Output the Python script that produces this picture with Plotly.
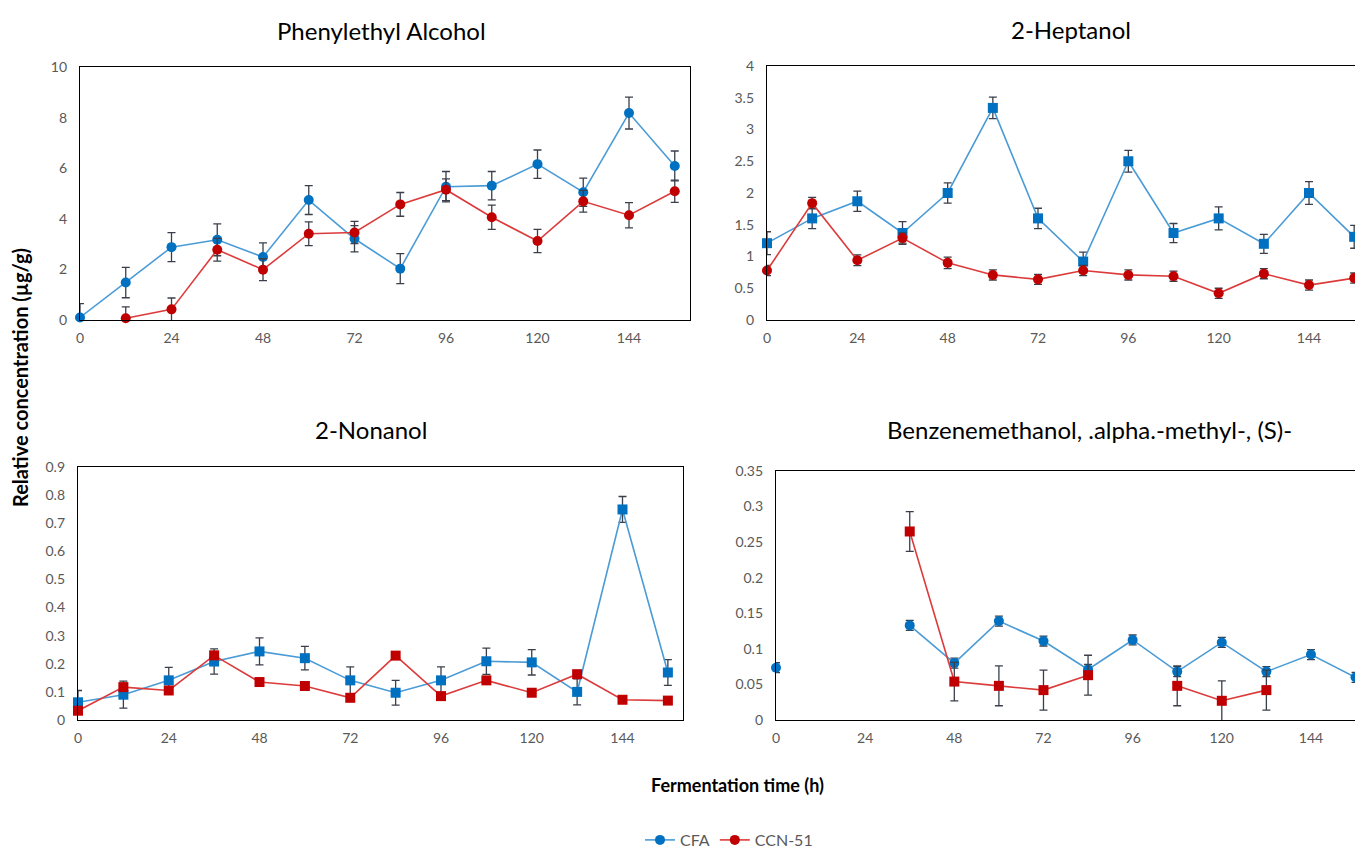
import plotly.graph_objects as go

hours = [0, 12, 24, 36, 48, 60, 72, 84, 96, 108, 120, 132, 144, 156]
x_ticks = [0, 24, 48, 72, 96, 120, 144]

# Phenylethyl Alcohol
pea_cfa = [0.10, 1.48, 2.88, 3.17, 2.49, 4.74, 3.21, 2.03, 5.27, 5.31, 6.16, 5.05, 8.18, 6.09]
pea_cfa_err = [0.55, 0.60, 0.57, 0.63, 0.56, 0.57, 0.52, 0.59, 0.60, 0.56, 0.56, 0.56, 0.63, 0.59]
pea_ccn = [None, 0.07, 0.42, 2.78, 1.99, 3.41, 3.46, 4.57, 5.15, 4.06, 3.12, 4.69, 4.14, 5.09]
pea_ccn_err = [None, 0.45, 0.45, 0.45, 0.43, 0.47, 0.44, 0.47, 0.43, 0.48, 0.46, 0.43, 0.50, 0.44]

# 2-Heptanol
hep_cfa = [1.21, 1.60, 1.87, 1.37, 2.00, 3.34, 1.60, 0.92, 2.50, 1.37, 1.60, 1.20, 2.00, 1.31]
hep_cfa_err = [0.18, 0.16, 0.16, 0.18, 0.16, 0.17, 0.16, 0.15, 0.17, 0.15, 0.18, 0.15, 0.18, 0.18]
hep_ccn = [0.78, 1.84, 0.94, 1.29, 0.90, 0.71, 0.64, 0.78, 0.71, 0.69, 0.42, 0.73, 0.55, 0.66]
hep_ccn_err = [0.08, 0.09, 0.085, 0.08, 0.09, 0.08, 0.08, 0.08, 0.08, 0.08, 0.08, 0.08, 0.08, 0.08]

# 2-Nonanol
non_cfa = [0.063, 0.090, 0.141, 0.208, 0.244, 0.220, 0.141, 0.097, 0.141, 0.209, 0.205, 0.100, 0.749, 0.169]
non_cfa_err = [0.042, 0.048, 0.046, 0.045, 0.048, 0.042, 0.048, 0.044, 0.048, 0.047, 0.045, 0.046, 0.046, 0.046]
non_ccn = [0.033, 0.117, 0.105, 0.230, 0.135, 0.121, 0.079, 0.229, 0.085, 0.141, 0.097, 0.163, 0.072, 0.069]
non_ccn_err = [0.006, 0.010, 0.010, 0.012, 0.008, 0.008, 0.008, 0.010, 0.008, 0.008, 0.008, 0.008, 0.006, 0.006]

# Benzenemethanol, .alpha.-methyl-, (S)-
bzm_cfa = [0.0735, None, None, 0.133, 0.080, 0.139, 0.111, 0.071, 0.1125, 0.068, 0.109, 0.068, 0.092, 0.060]
bzm_cfa_err = [0.007, None, None, 0.007, 0.007, 0.007, 0.007, 0.007, 0.007, 0.007, 0.007, 0.007, 0.007, 0.007]
bzm_ccn = [None, None, None, 0.265, 0.054, 0.048, 0.042, 0.063, None, 0.048, 0.027, 0.042, None, None]
bzm_ccn_err = [None, None, None, 0.028, 0.027, 0.028, 0.028, 0.028, None, 0.028, 0.028, 0.028, None, None]

titles = ["Phenylethyl Alcohol", "2-Heptanol", "2-Nonanol", "Benzenemethanol, .alpha.-methyl-, (S)-"]

W, H = 1363, 847
OFF = 8  # page body margin: figure starts 8px in from the window corner
BLUE_M, BLUE_L = "#0070C0", "#4A9BD6"
RED_M, RED_L = "#C00000", "#DC3B3B"
ERR = "#3A3F4A"
FONT = "Lato, Open Sans, sans-serif"
TICKFONT = dict(family=FONT, size=14, color="#595959")


def px_x(p):
    return min(1.0, max(0.0, (p - OFF) / W))


def px_y(p):
    return min(1.0, max(0.0, 1 - (p - OFF) / H))


panels = [
    # cfa, err, ccn, err, symbols, x px (left, right), y px (top, bottom), ymax, dtick, right frame
    (pea_cfa, pea_cfa_err, pea_ccn, pea_ccn_err, "circle", "circle", (80, 690), (67, 320), 10, 2, True),
    (hep_cfa, hep_cfa_err, hep_ccn, hep_ccn_err, "square", "circle", (767, 767 + 160 * 3.764), (66, 320), 4, 0.5, False),
    (non_cfa, non_cfa_err, non_ccn, non_ccn_err, "square", "square", (78, 683), (467, 720), 0.9, 0.1, True),
    (bzm_cfa, bzm_cfa_err, bzm_ccn, bzm_ccn_err, "circle", "square", (776, 776 + 160 * 3.715), (471, 720), 0.35, 0.05, False),
]

fig = go.Figure()
layout = {}
for i, (cfa, cfae, ccn, ccne, s1, s2, xd, yd, ymax, dt, rf) in enumerate(panels):
    n = "" if i == 0 else str(i + 1)
    xa, ya = "x" + n, "y" + n
    for name, vals, errs, mc, lc, sym in [("CFA", cfa, cfae, BLUE_M, BLUE_L, s1),
                                          ("CCN-51", ccn, ccne, RED_M, RED_L, s2)]:
        fig.add_trace(go.Scatter(
            x=hours, y=vals, name=name, mode="lines+markers",
            line=dict(color=lc, width=1.6),
            marker=dict(color=mc, size=10, symbol=sym),
            error_y=dict(type="data", array=errs, visible=True, color=ERR, thickness=1.3, width=4),
            connectgaps=False, showlegend=(i == 0), legendgroup=name, cliponaxis=False,
            xaxis=xa, yaxis=ya,
        ))
    layout["xaxis" + n] = dict(
        domain=[px_x(xd[0]), px_x(xd[1])], range=[0, 160], anchor=ya,
        tickmode="array", tickvals=x_ticks, ticks="", showgrid=False, zeroline=False,
        showline=True, linecolor="#000000", linewidth=1.3, mirror=True,
        tickfont=TICKFONT, ticklabelstandoff=5,
    )
    layout["yaxis" + n] = dict(
        domain=[px_y(yd[1]), px_y(yd[0])], range=[0, ymax], anchor=xa,
        dtick=dt, tick0=0, ticks="", showgrid=False, zeroline=False,
        showline=True, linecolor="#000000", linewidth=1.3, mirror=rf,
        tickfont=TICKFONT, ticklabelstandoff=9,
    )

title_pos = [(381, 30), (1071, 29), (371, 429), (1089, 429)]
annotations = []
for t, (cx, cy) in zip(titles, title_pos):
    annotations.append(dict(text=t, x=px_x(cx), y=px_y(cy), xref="paper", yref="paper",
                            showarrow=False, xanchor="center", yanchor="middle",
                            font=dict(family=FONT, size=24, color="#000000")))
annotations.append(dict(text="<b>Relative concentration (µg/g)</b>", x=px_x(20), y=px_y(378),
                        xref="paper", yref="paper", showarrow=False, textangle=-90,
                        xanchor="center", yanchor="middle",
                        font=dict(family=FONT, size=20, color="#000000")))
annotations.append(dict(text="<b>Fermentation time (h)</b>", x=px_x(737), y=px_y(785),
                        xref="paper", yref="paper", showarrow=False,
                        xanchor="center", yanchor="middle",
                        font=dict(family=FONT, size=18, color="#000000")))

fig.update_layout(
    width=W, height=H, margin=dict(l=0, r=0, t=0, b=0, autoexpand=False),
    paper_bgcolor="white", plot_bgcolor="white",
    annotations=annotations,
    legend=dict(orientation="h", x=px_x(729), y=px_y(840), xanchor="center", yanchor="middle",
                font=dict(family=FONT, size=16, color="#595959"), tracegroupgap=0),
    **layout,
)

fig.write_html("out.html")
